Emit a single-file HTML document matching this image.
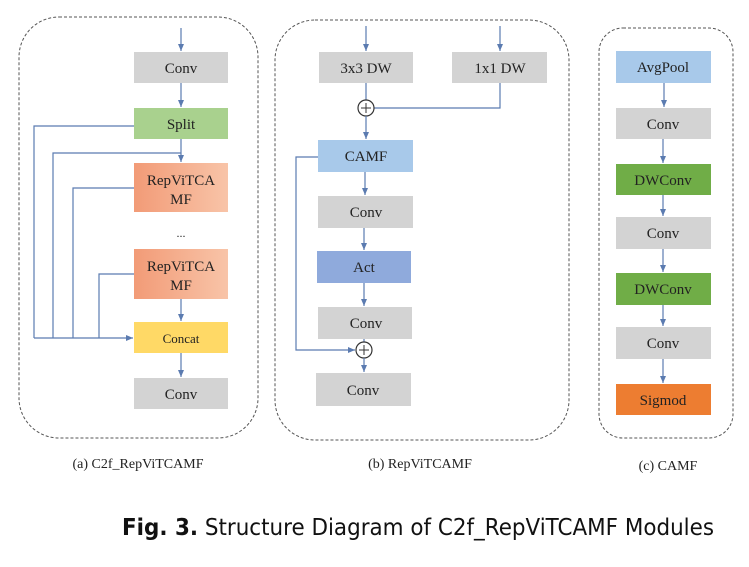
<!DOCTYPE html>
<html><head><meta charset="utf-8"><style>html,body{margin:0;padding:0;background:#fff}</style></head>
<body>
<svg width="749" height="562" viewBox="0 0 749 562" xmlns="http://www.w3.org/2000/svg">
<defs>
<marker id="a" markerWidth="8" markerHeight="8" refX="7" refY="4" orient="auto" markerUnits="userSpaceOnUse"><path d="M0,1 L7,4 L0,7 z" fill="#5b7bb0"/></marker>
<linearGradient id="og" x1="0" x2="1"><stop offset="0" stop-color="#f29b77"/><stop offset="1" stop-color="#f8c4a8"/></linearGradient>
</defs>
<g fill="none" stroke="#555" stroke-width="1" stroke-dasharray="3,2">
<rect x="19" y="17" width="239" height="421" rx="40"/>
<rect x="275" y="20" width="294" height="420" rx="40"/>
<rect x="599" y="28" width="134" height="410" rx="24"/>
</g>
<g font-family="Liberation Serif, serif" font-size="15" text-anchor="middle" fill="#222">
<!-- panel a -->
<rect x="134" y="52" width="94" height="31" fill="#d3d3d3"/><text x="181" y="73">Conv</text>
<rect x="134" y="108" width="94" height="31" fill="#a9d18e"/><text x="181" y="129">Split</text>
<rect x="134" y="163" width="94" height="49" fill="url(#og)"/><text x="181" y="185">RepViTCA</text><text x="181" y="204">MF</text>
<text x="181" y="237" font-size="12">...</text>
<rect x="134" y="249" width="94" height="50" fill="url(#og)"/><text x="181" y="271">RepViTCA</text><text x="181" y="290">MF</text>
<rect x="134" y="322" width="94" height="31" fill="#ffd966"/><text x="181" y="343" font-size="13">Concat</text>
<rect x="134" y="378" width="94" height="31" fill="#d3d3d3"/><text x="181" y="399">Conv</text>
<!-- panel b -->
<rect x="319" y="52" width="94" height="31" fill="#d3d3d3"/><text x="366" y="73">3x3 DW</text>
<rect x="452" y="52" width="95" height="31" fill="#d3d3d3"/><text x="500" y="73">1x1 DW</text>
<rect x="318" y="140" width="95" height="32" fill="#a8c9ea"/><text x="366" y="161">CAMF</text>
<rect x="318" y="196" width="95" height="32" fill="#d3d3d3"/><text x="366" y="217">Conv</text>
<rect x="317" y="251" width="94" height="32" fill="#8faadc"/><text x="364" y="272">Act</text>
<rect x="318" y="307" width="94" height="32" fill="#d3d3d3"/><text x="366" y="328">Conv</text>
<rect x="316" y="373" width="95" height="33" fill="#d3d3d3"/><text x="363" y="395">Conv</text>
<!-- panel c -->
<rect x="616" y="51" width="95" height="32" fill="#a8c9ea"/><text x="663" y="72">AvgPool</text>
<rect x="616" y="108" width="95" height="31" fill="#d3d3d3"/><text x="663" y="129">Conv</text>
<rect x="616" y="164" width="95" height="31" fill="#70ad47"/><text x="663" y="185">DWConv</text>
<rect x="616" y="217" width="95" height="32" fill="#d3d3d3"/><text x="663" y="238">Conv</text>
<rect x="616" y="273" width="95" height="32" fill="#70ad47"/><text x="663" y="294">DWConv</text>
<rect x="616" y="327" width="95" height="32" fill="#d3d3d3"/><text x="663" y="348">Conv</text>
<rect x="616" y="384" width="95" height="31" fill="#ed7d31"/><text x="663" y="405">Sigmod</text>
<!-- captions -->
<text x="138" y="468" font-size="14">(a) C2f_RepViTCAMF</text>
<text x="420" y="468" font-size="14">(b) RepViTCAMF</text>
<text x="668" y="470" font-size="14">(c) CAMF</text>
</g>
<g stroke="#5b7bb0" stroke-width="1.2" fill="none">
<!-- a -->
<line x1="181" y1="28" x2="181" y2="51" marker-end="url(#a)"/>
<line x1="181" y1="83" x2="181" y2="107" marker-end="url(#a)"/>
<line x1="181" y1="139" x2="181" y2="162" marker-end="url(#a)"/>
<line x1="181" y1="299" x2="181" y2="321" marker-end="url(#a)"/>
<line x1="181" y1="353" x2="181" y2="377" marker-end="url(#a)"/>
<polyline points="134,126 34,126 34,338"/>
<polyline points="181,153 53,153 53,338"/>
<polyline points="134,188 73,188 73,338"/>
<polyline points="134,274 99,274 99,338"/>
<line x1="34" y1="338" x2="133" y2="338" marker-end="url(#a)"/>
<!-- b -->
<line x1="366" y1="26" x2="366" y2="51" marker-end="url(#a)"/>
<line x1="500" y1="26" x2="500" y2="51" marker-end="url(#a)"/>
<line x1="366" y1="83" x2="366" y2="100"/>
<polyline points="500,83 500,108 374,108"/>
<circle cx="366" cy="108" r="8" fill="#fff" stroke="#333"/>
<line x1="366" y1="116" x2="366" y2="139" marker-end="url(#a)"/>
<line x1="365" y1="172" x2="365" y2="195" marker-end="url(#a)"/>
<line x1="364" y1="228" x2="364" y2="250" marker-end="url(#a)"/>
<line x1="364" y1="283" x2="364" y2="306" marker-end="url(#a)"/>
<line x1="364" y1="339" x2="364" y2="342"/>
<polyline points="318,157 296,157 296,350 355,350" marker-end="url(#a)"/>
<circle cx="364" cy="350" r="8" fill="#fff" stroke="#333"/>
<line x1="364" y1="358" x2="364" y2="372" marker-end="url(#a)"/>
<!-- c -->
<line x1="664" y1="83" x2="664" y2="107" marker-end="url(#a)"/>
<line x1="663" y1="139" x2="663" y2="163" marker-end="url(#a)"/>
<line x1="663" y1="195" x2="663" y2="216" marker-end="url(#a)"/>
<line x1="663" y1="249" x2="663" y2="272" marker-end="url(#a)"/>
<line x1="663" y1="305" x2="663" y2="326" marker-end="url(#a)"/>
<line x1="663" y1="359" x2="663" y2="383" marker-end="url(#a)"/>
</g>
<g stroke="#333" stroke-width="1">
<line x1="361" y1="108" x2="371" y2="108"/><line x1="366" y1="103" x2="366" y2="113"/>
<line x1="359" y1="350" x2="369" y2="350"/><line x1="364" y1="345" x2="364" y2="355"/>
</g>
<text x="122" y="535" font-family="DejaVu Sans, sans-serif" font-size="23" fill="#111" textLength="592" lengthAdjust="spacingAndGlyphs"><tspan font-weight="bold">Fig. 3.</tspan> Structure Diagram of C2f_RepViTCAMF Modules</text>
</svg>
</body></html>
